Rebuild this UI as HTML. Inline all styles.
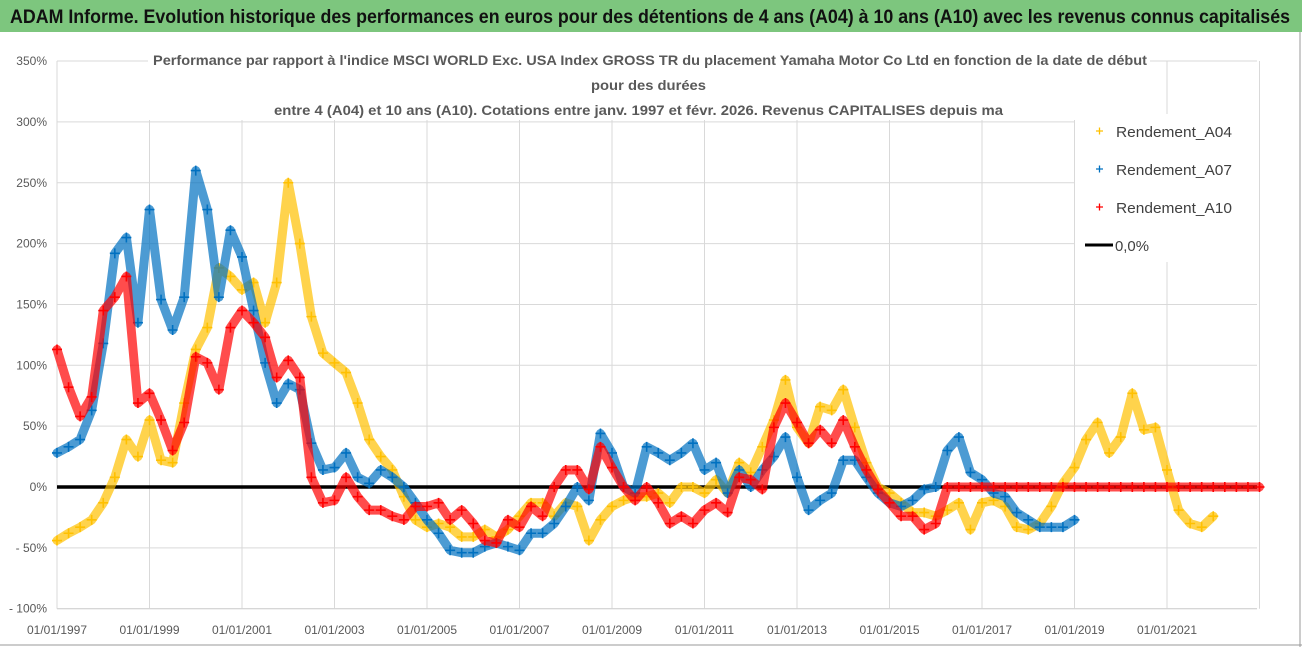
<!DOCTYPE html>
<html><head><meta charset="utf-8"><style>
html,body{margin:0;padding:0;background:#fff;}
svg{display:block;font-family:"Liberation Sans",sans-serif;}
</style></head><body>
<svg id="chart" width="1302" height="647" viewBox="0 0 1302 647">
  <rect x="0" y="0" width="1302" height="647" fill="#fff"/>
  <rect x="0" y="0" width="1302" height="32" fill="#7dc67e"/>
  <text x="10" y="23" font-size="19" font-weight="bold" fill="#111" textLength="1280" lengthAdjust="spacingAndGlyphs">ADAM Informe. Evolution historique des performances en euros pour des détentions de 4 ans (A04) à 10 ans (A10) avec les revenus connus capitalisés</text>
  <line x1="1300" y1="32" x2="1300" y2="647" stroke="#999"/>
  <line x1="0" y1="645" x2="1302" y2="645" stroke="#999"/>
  <g id="grid"></g>
  <g id="yaxis"></g>
  <g id="xaxis"></g>
  <g id="series"></g>
  <g>
    <rect x="148" y="44" width="1002" height="76" fill="#fff"/>
    <text x="153" y="65" font-size="14" font-weight="bold" fill="#595959" textLength="994" lengthAdjust="spacingAndGlyphs">Performance par rapport à l'indice MSCI WORLD Exc. USA Index GROSS TR  du placement Yamaha Motor Co Ltd en fonction de la date de début</text>
    <text x="591" y="90" font-size="14" font-weight="bold" fill="#595959" textLength="115" lengthAdjust="spacingAndGlyphs">pour des durées</text>
    <text x="274" y="115" font-size="14" font-weight="bold" fill="#595959" textLength="729" lengthAdjust="spacingAndGlyphs">entre 4 (A04) et 10 ans (A10). Cotations entre janv. 1997 et févr. 2026. Revenus CAPITALISES depuis ma</text>
  </g>
  <g>
    <rect x="1075" y="114" width="182" height="148" fill="#fff"/>
    <g>
      <path d="M1096 131h7M1099.5 127.5v7" stroke="#ffc000" stroke-width="1.3"/>
      <text x="1116" y="137" font-size="15" fill="#404040" textLength="116" lengthAdjust="spacingAndGlyphs">Rendement_A04</text>
    </g>
    <g>
      <path d="M1096 169h7M1099.5 165.5v7" stroke="#0070c0" stroke-width="1.3"/>
      <text x="1116" y="175" font-size="15" fill="#404040" textLength="116" lengthAdjust="spacingAndGlyphs">Rendement_A07</text>
    </g>
    <g>
      <path d="M1096 207h7M1099.5 203.5v7" stroke="#ff0000" stroke-width="1.3"/>
      <text x="1116" y="213" font-size="15" fill="#404040" textLength="116" lengthAdjust="spacingAndGlyphs">Rendement_A10</text>
    </g>
    <g>
      <line x1="1085" y1="245" x2="1113" y2="245" stroke="#000" stroke-width="3"/>
      <text x="1115" y="251" font-size="15" fill="#404040" textLength="34" lengthAdjust="spacingAndGlyphs">0,0%</text>
    </g>
  </g>
</svg>
<script>
const yTicks = [350,300,250,200,150,100,50,0,-50,-100];
const yTickLabels = ["350%","300%","250%","200%","150%","100%","50%","0%","- 50%","- 100%"];
const xTickYears = [0,2,4,6,8,10,12,14,16,18,20,22,24,26];
const xTickLabels = ["01/01/1997","01/01/1999","01/01/2001","01/01/2003","01/01/2005","01/01/2007","01/01/2009","01/01/2011","01/01/2013","01/01/2015","01/01/2017","01/01/2019","01/01/2021",""];
const tStep = 0.25;
const a04Values = [-44,-38,-33,-27,-13,8,39,25,55,22,20,69,113,131,180,173,162,168,135,168,250,200,140,110,102,94,69,39,25,14,-8,-27,
 -33,-30,-33,-41,-41,-35,-41,-35,-24,-13,-13,-24,-13,-16,-44,-27,-16,-11,-8,-8,-5,-13,0,0,-5,6,-5,20,12,33,55,88,49,36,66,63,80,
 49,20,0,-5,-13,-21,-21,-24,-19,-13,-35,-13,-11,-16,-33,-35,-30,-16,3,16,39,53,28,41,77,47,49,14,-19,-30,-33,-24];
const a07Values = [28,33,39,63,118,192,205,135,228,154,129,156,260,228,156,211,189,145,102,69,85,80,36,14,16,28,8,3,14,8,0,-13,
 -27,-38,-52,-54,-54,-49,-46,-49,-52,-38,-38,-30,-16,0,-11,44,28,0,-5,33,28,22,28,36,14,20,-5,14,0,14,25,41,8,-19,-11,-5,22,
 22,8,-5,-13,-16,-11,-2,0,30,41,12,6,-5,-8,-21,-27,-33,-33,-33,-27];
const a10Values = [113,82,58,74,145,156,173,69,77,55,30,53,107,102,80,131,145,135,123,90,104,90,8,-13,-11,8,-8,-19,-19,-24,-27,-16,
 -16,-13,-27,-19,-30,-44,-46,-27,-33,-16,-24,0,14,14,-2,33,16,0,-11,0,-13,-30,-24,-30,-19,-13,-21,8,6,-2,49,69,53,36,47,36,55,
 33,14,-2,-13,-24,-24,-35,-30,0,0,0,0,0,0,0,0,0,0,0,0,0,0,0,0,0,0,0,0,0,0,0,0,0,0,0,0];

const NS="http://www.w3.org/2000/svg";
const X0=57, PX_PER_YEAR=46.25, Y0=487, PX_PER_PCT=1.217, PLOT_RIGHT=1257;
function xScale(t){return X0+t*PX_PER_YEAR;}
function yScale(v){return Y0-v*PX_PER_PCT;}
function mk(tag,attrs,parent){const e=document.createElementNS(NS,tag);for(const k in attrs)e.setAttribute(k,attrs[k]);parent.appendChild(e);return e;}

const grid=document.getElementById('grid');
yTicks.forEach(v=>{
  const l=mk('line',{x1:X0,x2:PLOT_RIGHT,y1:yScale(v),y2:yScale(v),stroke:v===-100?'#c8c8c8':'#d9d9d9','stroke-width':1},grid);
  
  
});
xTickYears.forEach(t=>{
  const l=mk('line',{x1:xScale(t),x2:xScale(t),y1:yScale(350),y2:yScale(-100),stroke:'#d9d9d9','stroke-width':1},grid);
  
  
});
const yaxis=document.getElementById('yaxis');
yTicks.forEach((v,i)=>{
  const tx=mk('text',{x:47,y:yScale(v)+4,'font-size':12,fill:'#595959','text-anchor':'end'},yaxis);
  tx.textContent=yTickLabels[i];
  
  
});
const xaxis=document.getElementById('xaxis');
xTickYears.forEach((t,i)=>{
  if(!xTickLabels[i])return;
  const tx=mk('text',{x:xScale(t),y:634,'font-size':12,fill:'#595959','text-anchor':'middle'},xaxis);
  tx.textContent=xTickLabels[i];
  
  
});

const seriesLayer=document.getElementById('series');
const zl=mk('line',{x1:X0,x2:PLOT_RIGHT,y1:yScale(0),y2:yScale(0),stroke:'#000','stroke-width':3.5},seriesLayer);



function drawSeries(vals,color,name){
  const g=mk('g',{},seriesLayer);
  
  
  const pts=vals.map((v,i)=>xScale(i*tStep).toFixed(1)+','+yScale(v).toFixed(1)).join(' ');
  const pl=mk('polyline',{points:pts,fill:'none',stroke:color,'stroke-width':9,'stroke-linejoin':'round','stroke-linecap':'round',opacity:0.7},g);
  
  
  vals.forEach((v,i)=>{
    const x=xScale(i*tStep), y=yScale(v);
    const p=mk('path',{d:`M${x-5} ${y}h10M${x} ${y-5}v10`,stroke:color,'stroke-width':1.6},g);
    
    
  });
}
drawSeries(a04Values,'#ffc000','series-a04');
drawSeries(a07Values,'#0070c0','series-a07');
drawSeries(a10Values,'#ff0000','series-a10');
</script>
</body></html>
